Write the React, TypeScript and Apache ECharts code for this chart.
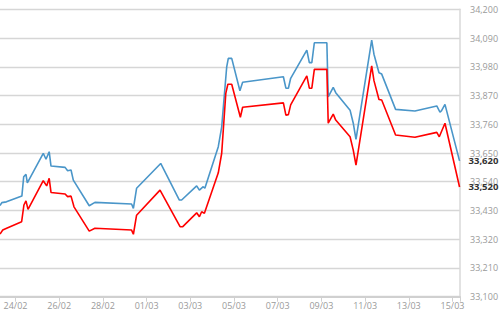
import { useEffect, useRef } from 'react';
import * as echarts from 'echarts';

const START = Date.UTC(2024, 1, 24); // 24/02/2024 00:00
const DAY = 86400000;

const Y_MIN = 33100;
const Y_MAX = 34200;
const Y_STEP = 110;
const X_MIN_DAYS = -2; // 22/02
const X_MAX_TIME = '03-15 08:15';
const X_STEP_DAYS = 2;

const blueTimes = [
  '02-23 07:00', '02-23 09:00', '02-23 14:00', '02-24 07:00', '02-24 09:00', '02-24 11:30', '02-24 13:00',
  '02-25 06:30', '02-25 09:30', '02-25 13:00', '02-25 15:00', '02-26 06:30', '02-26 09:15', '02-26 13:00',
  '02-26 15:30', '02-27 09:00', '02-27 15:15', '02-29 07:30', '02-29 09:30', '02-29 13:00', '03-01 15:30',
  '03-02 12:00', '03-02 14:30', '03-03 07:00', '03-03 10:00', '03-03 14:15', '03-03 16:00', '03-04 06:45',
  '03-04 10:30', '03-04 16:00', '03-04 17:45', '03-04 21:30', '03-05 06:30', '03-05 09:30', '03-07 06:15',
  '03-07 09:00', '03-07 11:45', '03-07 14:15', '03-08 08:00', '03-08 10:45', '03-08 13:30', '03-08 16:15',
  '03-09 06:00', '03-09 07:30', '03-09 13:00', '03-09 15:45', '03-10 07:30', '03-10 11:00', '03-10 14:00',
  '03-11 07:15', '03-11 09:45', '03-11 15:15', '03-11 18:15', '03-12 09:30', '03-13 06:45', '03-14 06:45',
  '03-14 10:15', '03-14 12:00', '03-14 15:45', '03-15 07:45',
];
const blueValues = [
  33449, 33460, 33463, 33485, 33559, 33568, 33536,
  33649, 33626, 33655, 33600, 33595, 33582, 33585,
  33546, 33448, 33461, 33455, 33438, 33515, 33610,
  33470, 33470, 33524, 33508, 33521, 33515, 33674,
  33750, 33980, 34012, 34012, 33888, 33921, 33942,
  33898, 33898, 33936, 34044, 33996, 33996, 34072,
  34072, 33865, 33901, 33881, 33814, 33764, 33702,
  34082, 34028, 33957, 33952, 33817, 33811, 33830,
  33806, 33812, 33836, 33620,
];

const redTimes = [
  '02-23 07:00', '02-23 10:00', '02-23 14:15', '02-24 06:45', '02-24 09:15', '02-24 11:30', '02-24 13:45',
  '02-25 06:30', '02-25 10:15', '02-25 13:00', '02-25 15:00', '02-26 06:30', '02-26 09:15', '02-26 13:00',
  '02-26 16:15', '02-27 09:00', '02-27 15:15', '02-29 07:30', '02-29 09:30', '02-29 13:00', '03-01 14:45',
  '03-02 12:45', '03-02 15:45', '03-03 07:00', '03-03 10:00', '03-03 12:30', '03-03 15:30', '03-04 06:45',
  '03-04 10:30', '03-04 15:00', '03-04 17:15', '03-04 21:30', '03-05 07:00', '03-05 09:30', '03-07 06:15',
  '03-07 09:00', '03-07 11:45', '03-07 14:15', '03-08 08:00', '03-08 10:45', '03-08 13:30', '03-08 16:15',
  '03-09 06:00', '03-09 07:30', '03-09 13:00', '03-09 15:45', '03-10 07:30', '03-10 11:00', '03-10 14:00',
  '03-11 07:15', '03-11 09:45', '03-11 15:15', '03-11 18:15', '03-12 09:30', '03-13 06:45', '03-14 06:45',
  '03-14 09:30', '03-14 15:45', '03-15 07:45',
];
const redValues = [
  33340, 33355, 33362, 33387, 33451, 33467, 33434,
  33544, 33524, 33553, 33499, 33493, 33483, 33485,
  33444, 33351, 33362, 33355, 33339, 33412, 33508,
  33368, 33368, 33421, 33406, 33425, 33419, 33574,
  33649, 33878, 33913, 33913, 33787, 33825, 33842,
  33795, 33797, 33834, 33945, 33898, 33898, 33970,
  33970, 33764, 33799, 33776, 33712, 33661, 33604,
  33983, 33927, 33855, 33853, 33719, 33710, 33729,
  33712, 33764, 33520,
];

function toDays(s: string): number {
  const [d, t] = s.split(' ');
  const [mo, da] = d.split('-').map(Number);
  const [h, mi] = t.split(':').map(Number);
  return (Date.UTC(2024, mo - 1, da, h, mi) - START) / DAY;
}

const fmtNum = (v: number) => Math.round(v).toLocaleString('en-US');
const pad = (n: number) => (n < 10 ? '0' + n : '' + n);

export default function App() {
  const ref = useRef<HTMLDivElement>(null);
  useEffect(() => {
    if (!ref.current) return;
    const chart = echarts.init(ref.current, undefined, { renderer: 'svg' });
    const font = '"Open Sans", sans-serif';
    const xMax = toDays(X_MAX_TIME);
    const endLabel = {
      show: true,
      distance: 9,
      color: '#333',
      fontWeight: 'bold' as const,
      fontSize: 9.5,
      fontFamily: font,
      formatter: (p: any) => fmtNum(p.value[1]),
    };
    chart.setOption({
      animation: false,
      grid: {
        left: -28.2,
        right: 40,
        top: 9.3,
        bottom: 15.3,
        containLabel: false,
        outerBoundsMode: 'none',
      },
      xAxis: {
        type: 'value',
        min: X_MIN_DAYS,
        max: xMax,
        interval: X_STEP_DAYS,
        axisLine: { show: true, onZero: false, lineStyle: { color: '#d0d0d0', width: 2 } },
        axisTick: { show: true, length: 5, lineStyle: { color: '#d0d0d0', width: 1 } },
        splitLine: { show: false },
        axisLabel: {
          color: '#9a9a9a',
          fontSize: 9,
          fontFamily: font,
          margin: 4,
          formatter: (v: number) => {
            if (v < 0 || Math.abs(v - Math.round(v)) > 1e-6) return '';
            const dt = new Date(START + Math.round(v) * DAY);
            return pad(dt.getUTCDate()) + '/' + pad(dt.getUTCMonth() + 1);
          },
        },
      },
      yAxis: {
        type: 'value',
        position: 'right',
        min: Y_MIN,
        max: Y_MAX,
        interval: Y_STEP,
        axisLine: { show: true, onZero: false, lineStyle: { color: '#d8d8d8', width: 1.5 } },
        axisTick: { show: false },
        splitLine: { show: true, lineStyle: { color: '#d6d6d6', width: 1.3 } },
        axisLabel: {
          color: '#9a9a9a',
          fontSize: 9,
          fontFamily: font,
          margin: 10,
          formatter: (v: number) => fmtNum(v),
        },
      },
      series: [
        {
          type: 'line',
          name: 'blue',
          showSymbol: false,
          symbol: 'none',
          lineStyle: { color: '#4a96c9', width: 1.6 },
          itemStyle: { color: '#4a96c9' },
          data: blueTimes.map((t, i) => [toDays(t), blueValues[i]]),
          endLabel,
        },
        {
          type: 'line',
          name: 'red',
          showSymbol: false,
          symbol: 'none',
          lineStyle: { color: '#ff0000', width: 1.6 },
          itemStyle: { color: '#ff0000' },
          data: redTimes.map((t, i) => [toDays(t), redValues[i]]),
          endLabel,
        },
      ],
    });
    return () => chart.dispose();
  }, []);
  return (
    <div
      ref={ref}
      style={{ position: 'absolute', left: 0, top: 0, width: 500, height: 312, background: '#fff' }}
    />
  );
}
